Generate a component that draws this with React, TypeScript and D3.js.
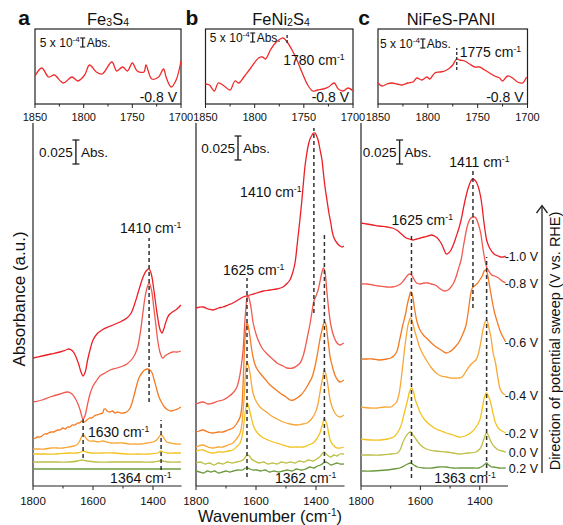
import React from "react";
import * as d3 from "d3";

type P = [number, number];

// ---------------- Panel a : Fe3S4  ([wavenumber cm-1, stacked absorbance a.u.]) ----------------
const A_M10: P[] = [[1800,128],[1770,130],[1740,132],[1710,134],[1690,136],[1680,137],[1668,135],[1658,130],[1648,122],[1640,114],[1633,110],[1626,114],[1618,126],[1610,136],[1600,146],[1587,152],[1570,156],[1550,159],[1533,161],[1510,164],[1487,168],[1475,172],[1467,177],[1458,185],[1450,193],[1443,200],[1433,209],[1423,215],[1413,217],[1405,211],[1398,198],[1390,180],[1383,166],[1376,156],[1370,153],[1364,157],[1357,164],[1347,171],[1335,174],[1320,177],[1307,181]];
const A_M08: P[] = [[1800,84],[1770,86],[1743,89],[1710,92],[1683,94],[1670,92],[1660,88],[1650,82],[1643,76],[1633,67],[1626,71],[1618,82],[1610,92],[1600,100],[1587,106],[1577,110],[1560,113],[1543,116],[1520,118],[1500,120],[1487,122],[1467,128],[1453,137],[1443,152],[1435,170],[1427,188],[1420,198],[1413,203],[1405,196],[1398,180],[1390,160],[1383,143],[1376,133],[1368,128],[1360,130],[1350,132],[1335,134],[1320,134],[1307,135]];
const A_M06: P[] = [[1800,47],[1792,48],[1785,49],[1777,49],[1770,50],[1762,52],[1755,52],[1748,53],[1740,54],[1732,54],[1725,55],[1717,56],[1710,56],[1700,58],[1692,57],[1685,59],[1677,59],[1670,61],[1660,61],[1652,63],[1645,63],[1637,65],[1630,64],[1620,66],[1612,68],[1604,68],[1596,70],[1588,71],[1578,72],[1568,73],[1563,77],[1558,77],[1553,75],[1545,74],[1535,75],[1527,73],[1518,74],[1508,73],[1498,73],[1488,74],[1478,77],[1470,83],[1462,92],[1455,100],[1447,108],[1437,113],[1428,116],[1418,117],[1410,116],[1403,113],[1396,106],[1388,97],[1380,89],[1372,84],[1362,79],[1350,76],[1340,75],[1328,76],[1318,77],[1307,79]];
const A_M04: P[] = [[1800,37],[1780,37],[1760,37],[1740,38],[1720,38],[1700,38],[1680,39],[1665,40],[1655,41],[1646,44],[1640,48],[1634,51],[1628,50],[1621,47],[1612,45],[1598,45],[1583,44],[1568,45],[1553,44],[1538,43],[1520,43],[1500,43],[1480,42],[1460,42],[1440,42],[1420,43],[1400,44],[1388,46],[1380,49],[1374,51],[1368,50],[1362,47],[1354,44],[1342,43],[1325,42],[1307,42]];
const A_M02: P[] = [[1800,32],[1760,32],[1720,32],[1680,33],[1655,33],[1640,34],[1632,35],[1622,34],[1605,33],[1570,33],[1530,33],[1490,32],[1450,32],[1410,32],[1385,33],[1374,35],[1366,34],[1352,33],[1330,33],[1307,33]];
const A_00: P[] = [[1800,24],[1760,24],[1720,24],[1680,24],[1650,25],[1636,26],[1622,25],[1590,24],[1540,24],[1490,24],[1440,24],[1400,24],[1378,25],[1368,25],[1350,24],[1307,24]];
const A_02: P[] = [[1800,17],[1750,17],[1700,17],[1650,17],[1600,17],[1550,17],[1500,17],[1450,17],[1400,17],[1350,17],[1307,17]];

// ---------------- Panel b : FeNi2S4 ----------------
const B_M10: P[] = [[1800,178],[1777,179],[1760,177],[1743,176],[1725,178],[1710,179],[1693,181],[1677,183],[1660,186],[1643,189],[1620,191],[1597,193],[1575,195],[1553,196],[1530,197],[1510,199],[1495,203],[1487,206],[1478,213],[1470,223],[1465,235],[1460,249],[1453,268],[1447,286],[1442,303],[1437,319],[1432,330],[1427,339],[1420,347],[1413,351],[1408,353],[1403,353],[1398,350],[1393,346],[1387,337],[1380,326],[1375,312],[1370,299],[1363,285],[1357,273],[1350,262],[1347,256],[1340,248],[1330,243],[1320,240],[1313,239],[1307,240]];
const B_M08: P[] = [[1800,82],[1777,84],[1760,82],[1743,83],[1725,85],[1710,86],[1693,89],[1677,93],[1665,98],[1657,106],[1650,118],[1643,136],[1637,165],[1633,180],[1630,188],[1626,190],[1620,184],[1615,175],[1610,164],[1600,152],[1593,146],[1580,138],[1563,132],[1545,127],[1530,123],[1510,120],[1497,118],[1477,118],[1465,120],[1453,123],[1443,130],[1437,137],[1428,150],[1420,162],[1413,175],[1407,185],[1400,190],[1393,196],[1387,204],[1380,214],[1375,218],[1370,214],[1367,206],[1363,192],[1360,183],[1355,170],[1350,160],[1340,149],[1330,143],[1320,141],[1313,142],[1307,143]];
const B_M06: P[] = [[1800,54],[1790,55],[1777,56],[1760,54],[1743,53],[1725,54],[1710,54],[1693,56],[1677,58],[1665,62],[1653,69],[1647,80],[1643,103],[1640,125],[1637,146],[1633,158],[1630,163],[1626,160],[1620,149],[1615,138],[1610,129],[1600,119],[1587,113],[1570,107],[1553,101],[1537,97],[1520,93],[1500,89],[1487,86],[1475,86],[1463,88],[1450,91],[1437,96],[1425,102],[1413,109],[1403,120],[1393,136],[1386,148],[1380,156],[1375,162],[1370,164],[1366,160],[1363,153],[1358,141],[1353,129],[1345,119],[1337,111],[1328,106],[1320,104],[1307,106]];
const B_M04: P[] = [[1800,39],[1777,41],[1760,39],[1743,38],[1725,39],[1710,39],[1693,41],[1677,43],[1665,47],[1653,53],[1647,62],[1643,75],[1640,86],[1636,108],[1633,119],[1630,124],[1626,121],[1620,113],[1615,102],[1610,93],[1600,85],[1587,79],[1570,75],[1553,71],[1530,67],[1510,64],[1487,62],[1463,61],[1445,62],[1430,63],[1415,67],[1403,73],[1395,80],[1387,93],[1382,102],[1377,109],[1373,116],[1368,113],[1363,106],[1358,96],[1353,86],[1345,78],[1337,73],[1328,70],[1320,69],[1307,71]];
const B_M02: P[] = [[1800,35],[1777,36],[1760,34],[1743,33],[1725,34],[1710,34],[1693,35],[1677,36],[1665,39],[1653,43],[1645,52],[1640,63],[1636,74],[1633,79],[1630,83],[1626,81],[1620,74],[1613,65],[1607,59],[1595,53],[1580,49],[1560,46],[1543,44],[1520,42],[1487,39],[1465,39],[1443,39],[1425,41],[1410,43],[1398,47],[1387,53],[1382,58],[1377,63],[1373,68],[1368,65],[1363,61],[1358,53],[1353,46],[1343,41],[1330,38],[1320,38],[1307,39]];
const B_00: P[] = [[1800,23],[1785,24],[1770,22],[1755,23],[1740,21],[1725,23],[1710,22],[1695,24],[1680,23],[1665,24],[1650,25],[1640,27],[1633,30],[1628,31],[1622,30],[1615,27],[1605,25],[1590,23],[1575,24],[1560,22],[1545,23],[1530,22],[1515,24],[1500,23],[1485,24],[1470,23],[1455,25],[1440,24],[1425,26],[1410,25],[1398,27],[1388,29],[1380,32],[1373,34],[1366,32],[1358,30],[1350,29],[1340,31],[1330,30],[1320,32],[1307,32]];
const B_02: P[] = [[1800,15],[1788,14],[1775,13],[1762,15],[1750,14],[1738,15],[1725,13],[1712,14],[1700,15],[1688,14],[1675,15],[1660,16],[1645,16],[1635,18],[1628,18],[1620,17],[1610,16],[1598,16],[1585,15],[1570,16],[1555,14],[1540,15],[1525,14],[1510,15],[1495,16],[1480,15],[1465,17],[1450,16],[1435,17],[1420,19],[1408,18],[1395,20],[1385,21],[1375,23],[1368,24],[1360,23],[1350,21],[1340,22],[1330,23],[1320,22],[1307,22]];

// ---------------- Panel c : NiFeS-PANI ----------------
const C_M10: P[] = [[1800,263],[1780,262],[1760,261],[1740,260],[1713,259],[1695,258],[1680,256],[1668,253],[1660,251],[1648,248],[1637,247],[1625,246],[1613,247],[1600,248],[1587,249],[1575,250],[1563,251],[1553,250],[1543,248],[1535,245],[1527,241],[1520,236],[1513,232],[1505,233],[1497,236],[1488,242],[1480,249],[1470,258],[1463,266],[1455,278],[1447,289],[1440,297],[1433,303],[1428,306],[1423,307],[1417,306],[1410,303],[1403,297],[1397,289],[1392,279],[1387,266],[1382,255],[1377,246],[1370,240],[1363,236],[1355,233],[1347,231],[1338,230],[1330,229],[1320,229],[1313,230]];
const C_M08: P[] = [[1800,202],[1780,202],[1760,201],[1740,200],[1713,199],[1695,199],[1680,200],[1667,202],[1655,206],[1645,210],[1637,212],[1630,211],[1622,207],[1613,203],[1600,202],[1587,203],[1575,203],[1563,202],[1550,201],[1537,198],[1527,196],[1517,195],[1507,196],[1497,199],[1488,203],[1480,209],[1472,217],[1463,226],[1455,240],[1447,253],[1440,262],[1430,268],[1420,269],[1413,268],[1405,262],[1397,253],[1392,243],[1387,233],[1382,225],[1377,219],[1370,215],[1360,211],[1350,210],[1337,208],[1325,205],[1313,203]];
const C_M06: P[] = [[1800,127],[1780,127],[1760,127],[1740,126],[1713,127],[1700,128],[1690,130],[1680,134],[1670,146],[1660,160],[1650,172],[1643,183],[1637,190],[1633,194],[1628,192],[1620,178],[1612,165],[1603,157],[1590,151],[1580,148],[1563,143],[1547,139],[1530,136],[1513,133],[1503,134],[1493,136],[1480,140],[1470,144],[1460,150],[1447,160],[1440,172],[1435,183],[1430,193],[1425,198],[1418,200],[1410,202],[1400,206],[1392,210],[1385,215],[1380,216],[1375,213],[1370,205],[1363,193],[1357,183],[1350,173],[1340,163],[1330,154],[1320,148],[1313,144]];
const C_M04: P[] = [[1800,79],[1770,78],[1743,78],[1720,79],[1700,79],[1690,81],[1680,84],[1672,92],[1665,106],[1660,119],[1652,140],[1645,155],[1640,163],[1633,168],[1627,164],[1620,156],[1610,146],[1603,139],[1592,132],[1580,126],[1565,119],[1547,113],[1530,110],[1513,109],[1497,108],[1480,108],[1470,108],[1460,109],[1450,113],[1437,119],[1425,123],[1413,126],[1405,132],[1397,143],[1392,152],[1387,159],[1382,164],[1377,166],[1372,162],[1367,155],[1363,150],[1355,133],[1347,123],[1340,110],[1330,96],[1320,92],[1313,91]];
const C_M02: P[] = [[1800,47],[1767,46],[1733,46],[1710,47],[1690,49],[1678,53],[1667,59],[1655,72],[1643,86],[1636,95],[1630,98],[1624,95],[1617,86],[1608,79],[1600,73],[1585,66],[1567,61],[1547,57],[1530,55],[1513,53],[1490,51],[1470,49],[1450,50],[1427,54],[1410,60],[1400,66],[1395,72],[1390,80],[1385,88],[1378,93],[1373,91],[1367,87],[1363,83],[1355,72],[1347,63],[1335,57],[1325,55],[1313,53]];
const C_00: P[] = [[1800,31],[1767,31],[1733,31],[1700,32],[1677,33],[1667,37],[1660,43],[1650,49],[1640,53],[1633,54],[1625,51],[1613,46],[1600,41],[1580,37],[1550,35],[1513,34],[1490,33],[1470,32],[1440,33],[1413,34],[1400,37],[1393,41],[1385,48],[1378,53],[1372,51],[1365,46],[1360,43],[1350,39],[1337,36],[1325,35],[1313,34]];
const C_02: P[] = [[1800,15],[1760,15],[1713,16],[1690,17],[1670,18],[1655,20],[1643,22],[1633,23],[1622,21],[1610,19],[1590,18],[1560,18],[1540,19],[1513,19],[1490,18],[1470,18],[1440,18],[1420,18],[1403,18],[1390,20],[1382,22],[1377,23],[1370,21],[1360,19],[1353,19],[1335,18],[1313,18]];

// ---------------- Insets (-0.8 V, 1850-1700 cm-1) ----------------
const INSET_A: P[] = [[1850,28],[1843,36],[1836,27],[1830,29],[1821,21],[1812,27],[1806,23],[1799,29],[1794,39],[1787,32],[1781,30],[1771,42],[1766,33],[1760,37],[1755,33],[1750,41],[1745,33],[1738,32],[1736,39],[1730,25],[1723,27],[1718,35],[1715,26],[1710,17],[1705,24],[1700,43]];
const INSET_B: P[] = [[1850,20],[1846,19],[1841,13],[1837,21],[1831,18],[1825,14],[1820,23],[1816,21],[1811,27],[1804,36],[1796,46],[1792,47],[1789,45],[1784,54],[1779,61],[1774,65],[1771,66],[1767,62],[1762,54],[1757,44],[1752,32],[1746,19],[1741,13],[1736,14],[1730,15],[1725,17],[1719,21],[1715,15],[1710,13],[1705,16],[1700,13]];
const INSET_C: P[] = [[1850,21],[1846,18],[1841,20],[1836,21],[1831,20],[1826,19],[1820,21],[1815,22],[1811,26],[1806,24],[1801,27],[1798,25],[1793,31],[1788,32],[1783,33],[1778,36],[1775,39],[1771,45],[1768,44],[1763,43],[1758,40],[1753,37],[1748,37],[1743,34],[1738,31],[1733,28],[1728,26],[1725,23],[1720,28],[1715,26],[1710,22],[1705,21],[1701,27]];

const VOLTS = ["-1.0 V", "-0.8 V", "-0.6 V", "-0.4 V", "-0.2 V", "0.0 V", "0.2 V"];
const COLORS = ["#ec1f26", "#f15a4e", "#f47a22", "#f8a737", "#f2c31f", "#bdbf45", "#6b9a3c"];

const MAIN_TICKS = [1800, 1700, 1600, 1500, 1400];
const MAIN_LABELS = [1800, 1600, 1400];
const INSET_TICKS = [1850, 1825, 1800, 1775, 1750, 1725, 1700];
const INSET_LABELS = [1850, 1800, 1750, 1700];

// peak markers: wn, dashed extent (a.u.), label text, label anchor (wn, a.u.)
const PEAKS_A = [
  { wn: 1413, lo: 84, hi: 248, text: "1410", lx: 1510, ly: 258 },
  { wn: 1633, lo: 28, hi: 68, text: "1630", lx: 1617, ly: 54 },
  { wn: 1373, lo: 16, hi: 66, text: "1364", lx: 1543, ly: 8 },
];
const PEAKS_B = [
  { wn: 1407, lo: 173, hi: 358, text: "1410", lx: 1653, ly: 294 },
  { wn: 1630, lo: 9, hi: 208, text: "1625", lx: 1710, ly: 216 },
  { wn: 1372, lo: 16, hi: 253, text: "1362", lx: 1537, ly: 8 },
];
const PEAKS_C = [
  { wn: 1630, lo: 8, hi: 253, text: "1625", lx: 1697, ly: 266 },
  { wn: 1423, lo: 178, hi: 317, text: "1411", lx: 1503, ly: 324 },
  { wn: 1377, lo: 11, hi: 229, text: "1363", lx: 1553, ly: 8 },
];
const INSET_PEAK_B = { wn: 1767, lo: 61, hi: 71, text: "1780", lx: 1771, ly: 44 };
const INSET_PEAK_C = { wn: 1771, lo: 34, hi: 56, text: "1775", lx: 1768, ly: 52 };

const TITLE_A: [string, boolean][] = [["Fe", false], ["3", true], ["S", false], ["4", true]];
const TITLE_B: [string, boolean][] = [["FeNi", false], ["2", true], ["S", false], ["4", true]];
const TITLE_C: [string, boolean][] = [["NiFeS-PANI", false]];

const FONT = "'Liberation Sans', Arial, Helvetica, sans-serif";
const MAIN_TOP = 123, MAIN_BOT = 486, INS_TOP = 29, INS_BOT = 104;

const LAYOUT = [
  { x0: 33, x1: 181.5, i0: 35, i1: 181, letterX: 24, titleX: 108 },
  { x0: 196, x1: 344.5, i0: 205.5, i1: 353, letterX: 192, titleX: 281 },
  { x0: 361, x1: 508, i0: 378, i1: 527.5, letterX: 364, titleX: 451 },
];

const PANELS = [
  { spectra: [A_M10, A_M08, A_M06, A_M04, A_M02, A_00, A_02], peaks: PEAKS_A, inset: INSET_A, insetPeak: null, bar: { wn: 1657, top: 346 }, ibar: { wn: 1801, top: 66 }, title: TITLE_A, letter: "a" },
  { spectra: [B_M10, B_M08, B_M06, B_M04, B_M02, B_00, B_02], peaks: PEAKS_B, inset: INSET_B, insetPeak: INSET_PEAK_B, bar: { wn: 1660, top: 350 }, ibar: { wn: 1802, top: 71 }, title: TITLE_B, letter: "b" },
  { spectra: [C_M10, C_M08, C_M06, C_M04, C_M02, C_00, C_02], peaks: PEAKS_C, inset: INSET_C, insetPeak: INSET_PEAK_C, bar: { wn: 1670, top: 346 }, ibar: { wn: 1805, top: 65 }, title: TITLE_C, letter: "c" },
];

const BAR_MAIN = 24; // 0.025 Abs
const BAR_INS = 9; // 5e-4 Abs

function Cm({ n, size }: { n: string; size: number }) {
  return (
    <>
      {n} cm<tspan dy={-size * 0.38} fontSize={size * 0.62}>-1</tspan>
    </>
  );
}

function Panel({ idx }: { idx: number }) {
  const L = LAYOUT[idx];
  const p = PANELS[idx];
  const x = d3.scaleLinear().domain([1800, 1305]).range([L.x0, L.x1]);
  const y = d3.scaleLinear().domain([0, MAIN_BOT - MAIN_TOP]).range([MAIN_BOT, MAIN_TOP]);
  const xi = d3.scaleLinear().domain([1850, 1700]).range([L.i0, L.i1]);
  const yi = d3.scaleLinear().domain([0, INS_BOT - INS_TOP]).range([INS_BOT, INS_TOP]);
  const line = d3.line<P>().x((d) => x(d[0])).y((d) => y(d[1])).curve(d3.curveCatmullRom.alpha(0.5));
  const iline = d3.line<P>().x((d) => xi(d[0])).y((d) => yi(d[1])).curve(d3.curveCatmullRom.alpha(0.5));
  const bx = x(p.bar.wn);
  const by0 = y(p.bar.top), by1 = y(p.bar.top - BAR_MAIN);
  const ibx = xi(p.ibar.wn);
  const iby0 = yi(p.ibar.top), iby1 = yi(p.ibar.top - BAR_INS);
  return (
    <g>
      {/* letter + title */}
      <text x={L.letterX} y={25} fontSize={21} fontWeight="bold" textAnchor="middle">{p.letter}</text>
      <text x={L.titleX} y={25} fontSize={16.5} textAnchor="middle">
        {p.title.map(([s, sub], i) =>
          sub ? <tspan key={i} fontSize={10.5} dy={1}>{s}</tspan> : <tspan key={i} dy={i > 0 ? -1 : 0}>{s}</tspan>
        )}
      </text>

      {/* inset */}
      <rect x={L.i0} y={INS_TOP} width={L.i1 - L.i0} height={INS_BOT - INS_TOP} fill="none" stroke="#222" strokeWidth={1.2} />
      {INSET_TICKS.map((t) => (
        <line key={t} x1={xi(t)} x2={xi(t)} y1={INS_BOT} y2={INS_BOT + (t % 50 === 0 ? 4 : 2.5)} stroke="#222" strokeWidth={1} />
      ))}
      {INSET_LABELS.map((t) => (
        <text key={t} x={xi(t)} y={121} fontSize={11} textAnchor="middle">{t}</text>
      ))}
      <path d={iline(p.inset) || ""} fill="none" stroke="#ef2b2b" strokeWidth={1.3} />
      <text x={L.i1 - 4} y={102} fontSize={14} textAnchor="end">-0.8 V</text>
      <line x1={ibx} x2={ibx} y1={iby0} y2={iby1} stroke="#222" strokeWidth={1.3} />
      <line x1={ibx - 2.5} x2={ibx + 2.5} y1={iby0} y2={iby0} stroke="#222" strokeWidth={1.2} />
      <line x1={ibx - 2.5} x2={ibx + 2.5} y1={iby1} y2={iby1} stroke="#222" strokeWidth={1.2} />
      <text x={ibx - 3} y={(iby0 + iby1) / 2 + 4} fontSize={12} textAnchor="end">
        5 x 10<tspan dy={-4.5} fontSize={8}>-4</tspan>
      </text>
      <text x={ibx + 4} y={(iby0 + iby1) / 2 + 4} fontSize={12}>Abs.</text>
      {p.insetPeak && (
        <g>
          <line x1={xi(p.insetPeak.wn)} x2={xi(p.insetPeak.wn)} y1={yi(p.insetPeak.lo)} y2={yi(p.insetPeak.hi)} stroke="#333" strokeWidth={1.4} strokeDasharray="3,2" />
          <text x={xi(p.insetPeak.lx)} y={yi(p.insetPeak.ly) + 5} fontSize={14}>
            <Cm n={p.insetPeak.text} size={14} />
          </text>
        </g>
      )}

      {/* main axes */}
      <line x1={L.x0} x2={L.x0} y1={MAIN_TOP} y2={MAIN_BOT} stroke="#222" strokeWidth={1.2} />
      <line x1={L.x0} x2={L.x1} y1={MAIN_BOT} y2={MAIN_BOT} stroke="#222" strokeWidth={1.2} />
      {MAIN_TICKS.map((t) => (
        <line key={t} x1={x(t)} x2={x(t)} y1={MAIN_BOT} y2={MAIN_BOT + (t % 200 === 0 ? 4 : 2.5)} stroke="#222" strokeWidth={1} />
      ))}
      {MAIN_LABELS.map((t) => (
        <text key={t} x={x(t)} y={505} fontSize={11.5} textAnchor="middle">{t}</text>
      ))}

      {/* spectra */}
      {p.spectra.map((s, i) => (
        <path key={i} d={line(s) || ""} fill="none" stroke={COLORS[i]} strokeWidth={1.3} />
      ))}

      {/* dashed peak markers */}
      {p.peaks.map((k, i) => (
        <g key={i}>
          <line x1={x(k.wn)} x2={x(k.wn)} y1={y(k.lo)} y2={y(k.hi)} stroke="#333" strokeWidth={1.5} strokeDasharray="4,3" />
          <text x={x(k.lx)} y={y(k.ly) + 5} fontSize={14}>
            <Cm n={k.text} size={14} />
          </text>
        </g>
      ))}

      {/* scale bar */}
      <line x1={bx} x2={bx} y1={by0} y2={by1} stroke="#222" strokeWidth={1.4} />
      <line x1={bx - 3.5} x2={bx + 3.5} y1={by0} y2={by0} stroke="#222" strokeWidth={1.3} />
      <line x1={bx - 3.5} x2={bx + 3.5} y1={by1} y2={by1} stroke="#222" strokeWidth={1.3} />
      <text x={bx - 3} y={(by0 + by1) / 2 + 5} fontSize={13.5} textAnchor="end">0.025</text>
      <text x={bx + 5} y={(by0 + by1) / 2 + 5} fontSize={13.5}>Abs.</text>

      {/* potential labels on last panel */}
      {idx === 2 &&
        p.spectra.map((s, i) => (
          <text key={"v" + i} x={538} y={y(s[s.length - 1][1]) + 4.5} fontSize={12.5} textAnchor="end">{VOLTS[i]}</text>
        ))}
    </g>
  );
}

export default function App() {
  return (
    <svg width={563} height={525} style={{ position: "absolute", left: 0, top: 0, background: "#fff" }} fontFamily={FONT} fill="#111">
      <rect x={0} y={0} width={563} height={525} fill="#fff" />
      {[0, 1, 2].map((i) => <Panel key={i} idx={i} />)}
      <text transform="translate(25,299) rotate(-90)" fontSize={17} textAnchor="middle">Absorbance (a.u.)</text>
      <text x={270} y={522} fontSize={16.5} textAnchor="middle">
        Wavenumber (cm<tspan dy={-6} fontSize={10}>-1</tspan><tspan dy={6}>)</tspan>
      </text>
      <line x1={542} x2={542} y1={473} y2={206} stroke="#222" strokeWidth={1.3} />
      <path d="M536.5,213 L542,205.5 L547.5,213" fill="none" stroke="#222" strokeWidth={1.3} />
      <text transform="translate(560,341) rotate(-90)" fontSize={14.5} textAnchor="middle">Direction of potential sweep (V vs. RHE)</text>
    </svg>
  );
}
